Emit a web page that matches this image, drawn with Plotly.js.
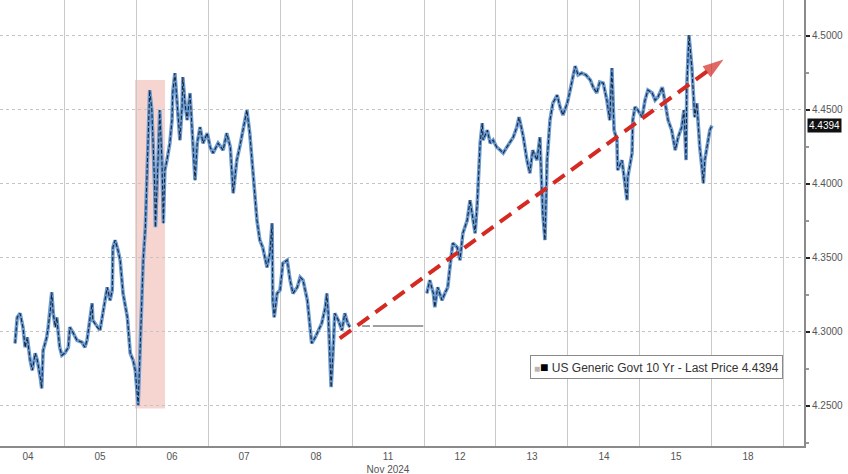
<!DOCTYPE html>
<html>
<head>
<meta charset="utf-8">
<script src="https://cdn.plot.ly/plotly-3.0.1.min.js"></script>
<style>
  html, body { margin: 0; padding: 0; background: #fff; }
  #chart { width: 848px; height: 474px; }
</style>
</head>
<body>
<div id="chart"></div>
<script>
// ---- Data (x = session position, one unit per trading day; y = yield %) ----
const dayLabels = ["04", "05", "06", "07", "08", "11<br>Nov 2024", "12", "13", "14", "15", "18"];
const dayCenters = [0, 1, 2, 3, 4, 5, 6, 7, 8, 9, 10];

const sessionPos = [
  -0.18, -0.15, -0.11, -0.07, -0.04, -0.01, 0.03, 0.06, 0.10, 0.13,
  0.17, 0.19, 0.21, 0.26, 0.28, 0.31, 0.33, 0.35, 0.38, 0.40,
  0.42, 0.44, 0.47, 0.51, 0.56, 0.58, 0.63, 0.68, 0.75, 0.79,
  0.82, 0.86, 0.89, 0.90, 0.96, 1.00, 1.04, 1.10, 1.14, 1.17,
  1.18, 1.21, 1.25, 1.28, 1.32, 1.38, 1.42, 1.46, 1.49, 1.53,
  1.56, 1.58, 1.60, 1.63, 1.65, 1.67, 1.69, 1.72, 1.74, 1.76,
  1.77, 1.79, 1.81, 1.83, 1.86, 1.88, 1.90, 1.93, 1.97, 2.00,
  2.01, 2.04, 2.07, 2.11, 2.14, 2.15, 2.18, 2.21, 2.25, 2.28,
  2.32, 2.35, 2.39, 2.43, 2.49, 2.53, 2.57, 2.64, 2.71, 2.76,
  2.81, 2.85, 2.90, 2.94, 2.99, 3.04, 3.08, 3.13, 3.18, 3.22,
  3.26, 3.32, 3.36, 3.39, 3.40, 3.42, 3.46, 3.50, 3.54, 3.60,
  3.64, 3.68, 3.74, 3.78, 3.82, 3.88, 3.92, 3.94, 3.99, 4.03,
  4.08, 4.13, 4.15, 4.17, 4.19, 4.21, 4.24, 4.26, 4.31, 4.36,
  4.40, 4.44, 4.47, null,
  5.54, 5.58, 5.63, 5.65, 5.69, 5.75, 5.79, 5.83, 5.86, 5.90,
  5.96, 6.00, 6.04, 6.10, 6.14, 6.18, 6.21, 6.24, 6.25, 6.28,
  6.31, 6.32, 6.38, 6.42, 6.46, 6.51, 6.56, 6.60, 6.65, 6.69,
  6.74, 6.79, 6.82, 6.86, 6.88, 6.93, 6.97, 7.01, 7.07, 7.11,
  7.15, 7.18, 7.21, 7.25, 7.29, 7.35, 7.39, 7.43, 7.49, 7.53,
  7.57, 7.60, 7.64, 7.69, 7.75, 7.81, 7.85, 7.90, 7.94, 7.99,
  8.04, 8.08, 8.11, 8.14, 8.18, 8.19, 8.25, 8.29, 8.32, 8.33,
  8.39, 8.40, 8.43, 8.47, 8.53, 8.57, 8.61, 8.67, 8.71, 8.75,
  8.81, 8.85, 8.89, 8.94, 8.99, 9.03, 9.08, 9.11, 9.14, 9.15,
  9.18, 9.22, 9.24, 9.26, 9.29, 9.31, 9.33, 9.36, 9.38, 9.40,
  9.43, 9.47, 9.50
];
const yieldPct = [
  4.2921, 4.3097, 4.3124, 4.3030, 4.2894, 4.2962, 4.2806, 4.2739, 4.2854, 4.2806,
  4.2691, 4.2617, 4.2874, 4.2962, 4.3030, 4.3145, 4.3266, 4.3124, 4.3030, 4.3097,
  4.2989, 4.2894, 4.2840, 4.2854, 4.2894, 4.3030, 4.2989, 4.2942, 4.2928, 4.2894,
  4.2942, 4.3077, 4.3192, 4.3077, 4.3030, 4.3009, 4.3124, 4.3300, 4.3212, 4.3280,
  4.3571, 4.3618, 4.3550, 4.3483, 4.3259, 4.3097, 4.2854, 4.2806, 4.2739, 4.2502,
  4.2921, 4.3259, 4.3483, 4.3706, 4.4044, 4.4383, 4.4633, 4.4498, 4.4274, 4.3977,
  4.3706, 4.4044, 4.4207, 4.4498, 4.4159, 4.3733, 4.4092, 4.4159, 4.4274, 4.4430,
  4.4613, 4.4748, 4.4565, 4.4295, 4.4518, 4.4721, 4.4545, 4.4430, 4.4613, 4.4383,
  4.4024, 4.4274, 4.4383, 4.4274, 4.4342, 4.4247, 4.4207, 4.4274, 4.4227, 4.4342,
  4.4247, 4.3936, 4.4159, 4.4247, 4.4383, 4.4498, 4.4342, 4.4044, 4.3753, 4.3618,
  4.3571, 4.3435, 4.3530, 4.3733, 4.3212, 4.3097, 4.3259, 4.3280, 4.3463, 4.3483,
  4.3348, 4.3259, 4.3300, 4.3368, 4.3348, 4.3212, 4.3030, 4.2921, 4.2962, 4.3009,
  4.3057, 4.3165, 4.3259, 4.3124, 4.2806, 4.2624, 4.2894, 4.3124, 4.3077, 4.3009,
  4.3124, 4.3057, 4.3030, null,
  4.3259, 4.3348, 4.3259, 4.3165, 4.3300, 4.3212, 4.3259, 4.3300, 4.3435, 4.3598,
  4.3571, 4.3483, 4.3665, 4.3753, 4.3889, 4.3753, 4.3665, 4.3869, 4.4004, 4.4274,
  4.4410, 4.4295, 4.4362, 4.4274, 4.4295, 4.4247, 4.4227, 4.4207, 4.4247, 4.4274,
  4.4315, 4.4383, 4.4450, 4.4362, 4.4315, 4.4159, 4.4071, 4.4227, 4.4159, 4.4315,
  4.3801, 4.3618, 4.4159, 4.4430, 4.4545, 4.4599, 4.4518, 4.4464, 4.4545, 4.4633,
  4.4735, 4.4795, 4.4735, 4.4748, 4.4735, 4.4701, 4.4653, 4.4613, 4.4687, 4.4680,
  4.4565, 4.4430, 4.4782, 4.4362, 4.4295, 4.4092, 4.4159, 4.4004, 4.3889, 4.4044,
  4.4207, 4.4430, 4.4518, 4.4498, 4.4450, 4.4565, 4.4633, 4.4613, 4.4565, 4.4586,
  4.4653, 4.4545, 4.4430, 4.4362, 4.4227, 4.4315, 4.4383, 4.4498, 4.4159, 4.4653,
  4.5005, 4.4789, 4.4653, 4.4450, 4.4545, 4.4362, 4.4247, 4.4112, 4.4004, 4.4159,
  4.4247, 4.4362, 4.4394
];

// Holiday (Nov 11) flat segment
const holidayPos = [4.64, 4.75, null, 4.79, 5.49];
const holidayYield = [4.3038, 4.3038, null, 4.3038, 4.3038];

// Highlight band (Nov 05 evening) and trend arrow
const bandPos = [1.486, 1.903];
const bandYield = [4.2481, 4.4701];
const trendPos = [4.33, 9.66];
const trendYield = [4.2955, 4.4840];

const yTicks = [4.25, 4.30, 4.35, 4.40, 4.45, 4.50];
const seriesName = "US Generic Govt 10 Yr - Last Price";

// ---- Build ----
const lastPrice = yieldPct[yieldPct.length - 1];
const dayBounds = dayCenters.map(c => c + 0.5);

const traces = [
  { x: sessionPos, y: yieldPct, type: "scatter", mode: "lines", connectgaps: false,
    line: { color: "#6a9bd3", width: 3.6 }, hoverinfo: "skip", showlegend: false },
  { x: sessionPos, y: yieldPct, type: "scatter", mode: "lines", connectgaps: false,
    line: { color: "#1c2638", width: 1.1, dash: "4px,2px" }, showlegend: false },
  { x: holidayPos, y: holidayYield, type: "scatter", mode: "lines", connectgaps: false,
    line: { color: "#808080", width: 1.5 }, showlegend: false },
  { x: trendPos, y: trendYield, type: "scatter", mode: "lines+markers",
    line: { color: "#d42a22", width: 4, dash: "14px,8px" },
    marker: { symbol: "arrow", size: [0, 22], color: "#d42a22", angleref: "previous",
              line: { width: 0 } },
    showlegend: false, hoverinfo: "skip" }
];

const layout = {
  width: 848, height: 474,
  margin: { l: 0, r: 44, t: 0, b: 28 },
  paper_bgcolor: "#ffffff", plot_bgcolor: "#ffffff",
  showlegend: false,
  font: { family: "Liberation Sans, Arial, sans-serif", size: 10, color: "#555" },
  xaxis: {
    range: [-0.389, 10.778],
    tickmode: "array", tickvals: dayCenters, ticktext: dayLabels,
    showgrid: false, zeroline: false,
    showline: true, linecolor: "#8a8a8a", linewidth: 2,
    ticks: "", tickfont: { size: 10, color: "#555" },
    minor: { tickmode: "array", tickvals: dayBounds, showgrid: true,
             gridcolor: "#c9c9c9", gridwidth: 1, ticks: "" }
  },
  yaxis: {
    side: "right",
    range: [4.2227, 4.5242],
    tickmode: "array", tickvals: yTicks, tickformat: ".4f",
    showgrid: true, gridcolor: "#c4c4c4", griddash: "dot", gridwidth: 1,
    zeroline: false,
    showline: true, linecolor: "#8a8a8a", linewidth: 2,
    ticks: "outside", ticklen: 4, tickwidth: 2, tickcolor: "#222",
    tickfont: { size: 10, color: "#555" },
    minor: { dtick: 0.025, ticks: "outside", ticklen: 3, tickcolor: "#999", showgrid: false }
  },
  shapes: [
    { type: "rect", xref: "x", yref: "y", layer: "below",
      x0: bandPos[0], x1: bandPos[1], y0: bandYield[0], y1: bandYield[1],
      fillcolor: "rgba(236,160,150,0.45)", line: { width: 0 } }
  ],
  annotations: [
    { xref: "paper", yref: "y", x: 1, y: lastPrice, xanchor: "left", yanchor: "middle",
      xshift: 3, text: lastPrice.toFixed(4), showarrow: false,
      bgcolor: "#111111", font: { color: "#ffffff", size: 10 }, borderpad: 1 },
    { xref: "paper", yref: "paper", x: 0.974, y: 0.177, xanchor: "right", yanchor: "middle",
      showarrow: false,
      text: "<span style='color:#b5b5b5;font-size:10px'>■</span><span style='color:#000;font-size:14px'>■</span> " +
            seriesName + " " + lastPrice.toFixed(4),
      font: { size: 12, color: "#333" }, bgcolor: "#ffffff",
      bordercolor: "#8a8a8a", borderwidth: 1, borderpad: 3 }
  ]
};

Plotly.newPlot("chart", traces, layout, { staticPlot: true, displayModeBar: false });
</script>
</body>
</html>
